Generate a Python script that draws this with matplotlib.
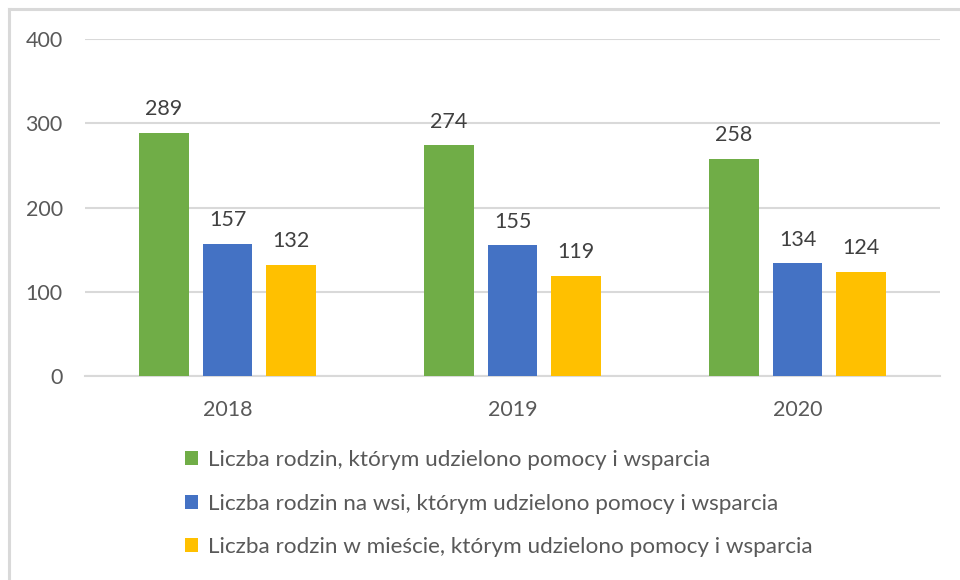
import matplotlib
matplotlib.use("Agg")
import matplotlib.pyplot as plt
from matplotlib.patches import Patch
from matplotlib.lines import Line2D
import numpy as np

years = ["2018", "2019", "2020"]
series_names = [
    "Liczba rodzin, którym udzielono pomocy i wsparcia",
    "Liczba rodzin na wsi, którym udzielono pomocy i wsparcia",
    "Liczba rodzin w mieście, którym udzielono pomocy i wsparcia",
]
total = [289, 274, 258]
village = [157, 155, 134]
town = [132, 119, 124]
colors = ["#70AD47", "#4472C4", "#FFC000"]

plt.rcParams['font.family'] = ['Lato', 'DejaVu Sans']

fig = plt.figure(figsize=(9.6, 5.8), dpi=100)
ax = fig.add_axes([85/960, 1-376/580, (940-85)/960, (376-39)/580])

x = np.arange(len(years))
width = 0.175
step = 0.223
for i, (vals, col) in enumerate(zip([total, village, town], colors)):
    pos = x + (i - 1) * step
    ax.bar(pos, vals, width=width, color=col, zorder=3)
    for p, v in zip(pos, vals):
        ax.text(p, v + 16, str(v), ha='center', va='bottom', fontsize=15.5, color='#404040')

ax.set_xlim(-0.5, 2.5)
ax.set_ylim(0, 400)
ax.set_yticks([0, 100, 200, 300, 400])
ax.set_xticks(x)
ax.set_xticklabels(years)
ax.grid(axis='y', color='#d9d9d9', linewidth=1.5, zorder=0)
ax.set_axisbelow(True)
for s in ['top', 'right', 'left']:
    ax.spines[s].set_visible(False)
ax.spines['bottom'].set_color('#d9d9d9')
ax.spines['bottom'].set_linewidth(1.5)
ax.tick_params(axis='both', length=0, labelsize=15.5, colors='#595959')
ax.tick_params(axis='y', pad=16)
ax.tick_params(axis='x', pad=17)

handles = [Patch(facecolor=c, edgecolor='none') for c in colors]
fig.legend(handles, series_names, loc='upper left', bbox_to_anchor=(185/960, 1-450/580),
           frameon=False, fontsize=16.2, labelcolor='#595959', handlelength=0.58,
           handleheight=0.58, handletextpad=0.45, labelspacing=1.05, borderpad=0,
           borderaxespad=0)

fig.add_artist(Line2D([9/960, 9/960], [0, 1-9/580], transform=fig.transFigure, color='#d9d9d9', linewidth=2.2))
fig.add_artist(Line2D([9/960, 1], [1-9/580, 1-9/580], transform=fig.transFigure, color='#d9d9d9', linewidth=2.2))

fig.savefig("out.png", dpi=100)
